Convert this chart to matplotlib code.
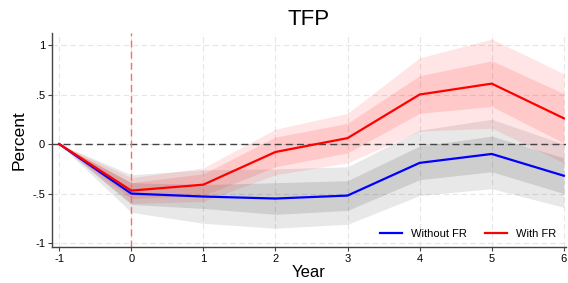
import matplotlib.pyplot as plt

plt.rcParams['font.family'] = ['Liberation Sans', 'DejaVu Sans']
plt.rcParams['axes.unicode_minus'] = False

# Impulse responses of TFP (percent), horizons -1..6
years = [-1, 0, 1, 2, 3, 4, 5, 6]
without_fr = [0, -0.50, -0.53, -0.55, -0.52, -0.19, -0.10, -0.32]
with_fr = [0, -0.47, -0.41, -0.08, 0.06, 0.50, 0.61, 0.26]

# half-widths of the confidence bands (inner / outer)
without_inner = [0, 0.11, 0.12, 0.16, 0.15, 0.17, 0.18, 0.18]
without_outer = [0, 0.19, 0.27, 0.30, 0.29, 0.33, 0.35, 0.32]
with_inner = [0, 0.08, 0.11, 0.15, 0.15, 0.19, 0.23, 0.25]
with_outer = [0, 0.13, 0.17, 0.23, 0.25, 0.37, 0.45, 0.45]

yticks = [-1, -0.5, 0, 0.5, 1]
ytick_labels = ["-1", "-.5", "0", ".5", "1"]

fig = plt.figure(figsize=(5.68, 2.83), dpi=100)
ax = fig.add_axes([0.0915, 0.127, 0.905, 0.756])

def band(mean, half, color, alpha):
    lo = [m - h for m, h in zip(mean, half)]
    hi = [m + h for m, h in zip(mean, half)]
    ax.fill_between(years, lo, hi, color=color, alpha=alpha, linewidth=0)

band(without_fr, without_outer, "black", 0.09)
band(without_fr, without_inner, "black", 0.11)
band(with_fr, with_outer, "red", 0.10)
band(with_fr, with_inner, "red", 0.12)

ax.axhline(0, color="#444444", linestyle=(0, (5, 3)), linewidth=1)
ax.axvline(0, color="#ff6a6a", linestyle=(0, (5, 3)), linewidth=1)

ax.plot(years, without_fr, color="blue", linewidth=1.6, label="Without FR")
ax.plot(years, with_fr, color="red", linewidth=1.6, label="With FR")

ax.set_xlim(-1.1, 6.03)
ax.set_ylim(-1.04, 1.12)
ax.set_xticks(years)
ax.set_yticks(yticks)
ax.set_yticklabels(ytick_labels)
ax.tick_params(labelsize=8, length=3, color="#444444", pad=2)
ax.grid(True, color="#e6e6e6", linestyle=(0, (5, 3)), linewidth=0.8)
ax.set_axisbelow(True)

for s in ["top", "right"]:
    ax.spines[s].set_visible(False)
for s in ["left", "bottom"]:
    ax.spines[s].set_color("#444444")
    ax.spines[s].set_linewidth(1.0)

ax.set_title("TFP", fontsize=16, pad=6)
ax.set_ylabel("Percent", fontsize=12.5, labelpad=4)
ax.set_xlabel("Year", fontsize=12, labelpad=1)

ax.legend(loc="lower right", ncol=2, frameon=False, fontsize=8,
          handlelength=2.0, columnspacing=1.6, bbox_to_anchor=(1.0, -0.01))

fig.savefig("out.png", dpi=100)
